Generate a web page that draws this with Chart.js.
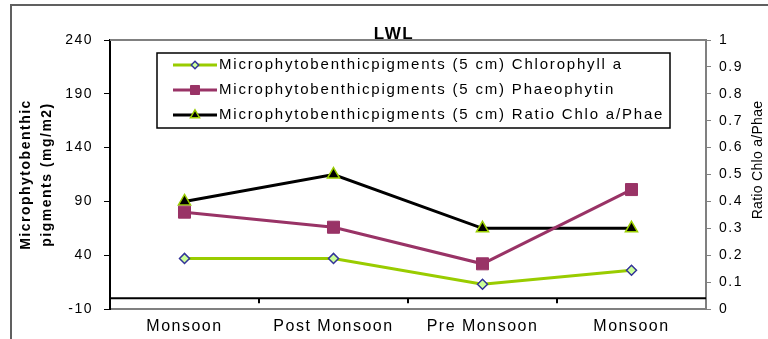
<!DOCTYPE html>
<html>
<head>
<meta charset="utf-8">
<script src="https://cdn.jsdelivr.net/npm/chart.js@4/dist/chart.umd.min.js"></script>
<style>
  html, body { margin: 0; padding: 0; background: #fff; }
</style>
</head>
<body>
<canvas id="chart" width="768" height="339"></canvas>
<script>
const seasons = ["Monsoon", "Post Monsoon", "Pre Monsoon", "Monsoon"];
const chlorophyll = [37, 37, 13, 26];
const phaeophytin = [80, 66, 32, 101];
const ratioChloPhae = [0.4, 0.5, 0.3, 0.3];
const pigmentTicks = [-10, 40, 90, 140, 190, 240];
const ratioTicks = [0, 0.1, 0.2, 0.3, 0.4, 0.5, 0.6, 0.7, 0.8, 0.9, 1];

Chart.defaults.font.family = '"Liberation Sans", Arial, sans-serif';
Chart.defaults.color = '#000';

// Excel-style wide text
const spacing = {
    id: 'spacing',
    beforeUpdate(chart) { chart.ctx.letterSpacing = '1.5px'; },
    beforeDraw(chart) { chart.ctx.letterSpacing = '1.5px'; },
};

const frame = {
    id: 'frame',
    beforeDraw(chart) {
        const ctx = chart.ctx;
        ctx.save();
        ctx.strokeStyle = '#606060';
        ctx.lineWidth = 2;
        ctx.strokeRect(11, 5, 800, 400);
        ctx.restore();
    },
    beforeDatasetsDraw(chart) {
        const { ctx, chartArea: a, scales: { x, y } } = chart;
        ctx.save();
        ctx.strokeStyle = '#808080';
        ctx.lineWidth = 2;
        ctx.beginPath();
        ctx.moveTo(a.left, a.top);
        ctx.lineTo(a.right, a.top);
        ctx.stroke();

        // category axis crosses at 0
        const y0 = y.getPixelForValue(0);
        ctx.strokeStyle = '#000';
        ctx.beginPath();
        ctx.moveTo(a.left, y0);
        ctx.lineTo(a.right, y0);
        const half = (x.getPixelForValue(1) - x.getPixelForValue(0)) / 2;
        for (let i = 1; i < seasons.length; i++) {
            const px = Math.round(x.getPixelForValue(i) - half);
            ctx.moveTo(px, y0);
            ctx.lineTo(px, y0 + 5);
        }
        ctx.stroke();
        ctx.restore();
    },
    afterDraw(chart) {
        const ctx = chart.ctx;
        ctx.save();

        // title
        ctx.letterSpacing = '1.5px';
        ctx.font = 'bold 17px "Liberation Sans", Arial, sans-serif';
        ctx.fillStyle = '#000';
        ctx.textAlign = 'center';
        ctx.textBaseline = 'alphabetic';
        ctx.fillText('LWL', 394, 39);

        // right axis title, reading upwards
        ctx.save();
        ctx.letterSpacing = '0.3px';
        ctx.translate(758, 160);
        ctx.rotate(-Math.PI / 2);
        ctx.font = '14px "Liberation Sans", Arial, sans-serif';
        ctx.textBaseline = 'middle';
        ctx.fillText('Ratio Chlo a/Phae', 0, 0);
        ctx.restore();

        // legend box
        const lx = 157, ly = 53, lw = 513, lh = 75;
        ctx.fillStyle = '#fff';
        ctx.fillRect(lx, ly, lw, lh);
        ctx.strokeStyle = '#000';
        ctx.lineWidth = 1.5;
        ctx.strokeRect(lx, ly, lw, lh);
        chart.data.datasets.forEach((ds, i) => {
            const ry = 65 + i * 25;
            ctx.strokeStyle = ds.borderColor;
            ctx.lineWidth = 3;
            ctx.beginPath();
            ctx.moveTo(173, ry);
            ctx.lineTo(217, ry);
            ctx.stroke();
            ctx.fillStyle = ds.pointBackgroundColor;
            ctx.strokeStyle = ds.pointBorderColor;
            ctx.lineWidth = ds.pointBorderWidth;
            Chart.helpers.drawPoint(ctx, {
                pointStyle: ds.pointStyle,
                radius: ds.pointRadius * 0.75,
                borderWidth: ds.pointBorderWidth,
                rotation: 0,
            }, 195, ry);
            ctx.fillStyle = '#000';
            ctx.letterSpacing = '1.8px';
            ctx.font = '15px "Liberation Sans", Arial, sans-serif';
            ctx.textAlign = 'left';
            ctx.textBaseline = 'middle';
            ctx.fillText(ds.label, 219, ry);
        });
        ctx.restore();
    },
};

new Chart(document.getElementById('chart'), {
    type: 'line',
    data: {
        labels: seasons,
        datasets: [
            {
                label: 'Microphytobenthicpigments (5 cm) Chlorophyll a',
                data: chlorophyll,
                yAxisID: 'y',
                borderColor: '#99CC00',
                borderWidth: 3,
                pointStyle: 'rectRot',
                pointRadius: 5,
                pointBackgroundColor: '#CCFF99',
                pointBorderColor: '#333399',
                pointBorderWidth: 1.5,
            },
            {
                label: 'Microphytobenthicpigments (5 cm) Phaeophytin',
                data: phaeophytin,
                yAxisID: 'y',
                borderColor: '#993366',
                borderWidth: 3,
                pointStyle: 'rect',
                pointRadius: 8.5,
                pointBackgroundColor: '#993366',
                pointBorderColor: '#993366',
                pointBorderWidth: 1,
            },
            {
                label: 'Microphytobenthicpigments (5 cm) Ratio Chlo a/Phae',
                data: ratioChloPhae,
                yAxisID: 'y1',
                borderColor: '#000000',
                borderWidth: 3,
                pointStyle: 'triangle',
                pointRadius: 7,
                pointBackgroundColor: '#000000',
                pointBorderColor: '#99CC00',
                pointBorderWidth: 1.5,
            },
        ],
    },
    options: {
        responsive: false,
        animation: false,
        layout: { padding: { top: 40, left: 0, right: 0, bottom: 0 } },
        plugins: {
            legend: { display: false },
            title: { display: false },
            tooltip: { enabled: false },
        },
        scales: {
            x: {
                offset: true,
                grid: { display: false, drawTicks: false },
                border: { display: true, color: '#808080', width: 2 },
                ticks: { font: { size: 16 }, padding: 8, maxRotation: 0, autoSkip: false },
                afterFit: (s) => { s.height = 30; },
            },
            y: {
                position: 'left',
                min: -10,
                max: 240,
                afterBuildTicks: (s) => { s.ticks = pigmentTicks.map((v) => ({ value: v })); },
                grid: { drawOnChartArea: false, tickLength: 6, color: '#000' },
                border: { color: '#000', width: 2 },
                ticks: { font: { size: 14 }, padding: 11 },
                title: {
                    display: true,
                    text: ['Microphytobenthic', 'pigments (mg/m2)'],
                    font: { size: 14, weight: 'bold', lineHeight: 1.5 },
                    padding: { top: 16, bottom: 0 },
                },
                afterFit: (s) => { s.width = 110; },
            },
            y1: {
                position: 'right',
                min: 0,
                max: 1,
                afterBuildTicks: (s) => { s.ticks = ratioTicks.map((v) => ({ value: v })); },
                grid: { drawOnChartArea: false, tickLength: 5, color: '#808080' },
                border: { color: '#808080', width: 2 },
                ticks: { font: { size: 14 }, padding: 8, callback: (v) => String(v) },
                afterFit: (s) => { s.width = 62; },
            },
        },
    },
    plugins: [spacing, frame],
});
</script>
</body>
</html>
